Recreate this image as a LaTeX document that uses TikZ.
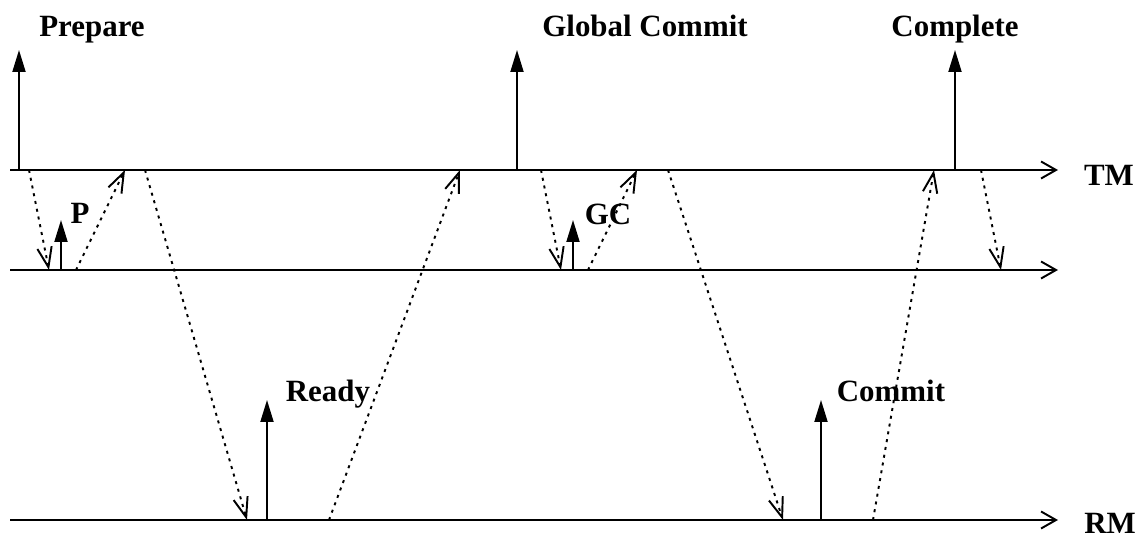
\documentclass[tikz,border=0pt]{standalone}
\usepackage{fontspec}
\setmainfont{Liberation Serif}
\usetikzlibrary{arrows.meta}
\usetikzlibrary{positioning}

\begin{document}
\begin{tikzpicture}[x=0.02cm, y=-0.02cm, line width=1.1pt,
    axis/.style={-{Straight Barb[length=0.3cm,width=0.34cm]}},
    event/.style={-{Triangle[length=0.44cm,width=0.26cm]}},
    msg/.style={-{Straight Barb[length=0.4cm,width=0.29cm]}, dash pattern=on 1.7pt off 2.8pt},
    lbl/.style={font=\fontsize{17.6}{20}\selectfont\bfseries, inner sep=0pt, anchor=base}]
        \useasboundingbox (0,0) rectangle (1143,540);

        % Draw the three time lines
        \foreach \n/\y in {tm/170, pm/270, rm/520}
        {
          \coordinate (\n0) at (10,\y);
          \coordinate (\n1) at (1058,\y);
          \draw[axis] (\n0) -- (\n1);
        }
        \node[lbl] (tmlbl) at (1109,186) {TM};
        \node[lbl] (rmlbl) at (1110,533) {RM};

        % Draw the events, each from its time line upwards
        \foreach \i/\x/\ya/\yb in {1/19/170/50, 2/517/170/50, 3/955/170/50, 4/61/270/220, 5/573/270/220, 6/267/520/400, 7/821/520/400}
        {
          \coordinate (e\i) at (\x,\ya);
          \coordinate (h\i) at (\x,\yb);
          \draw[event] (e\i) -- (h\i);
        }

        \node[lbl] (prepare) at (92,37) {Prepare};
        \node[lbl] (gcommit) at (645,37) {Global Commit};
        \node[lbl] (complete) at (955,37) {Complete};
        \node[lbl] (p) at (80,224) {P};
        \node[lbl] (gc) at (608,225) {GC};
        \node[lbl] (ready) at (328,402) {Ready};
        \node[lbl] (commit) at (891,402) {Commit};

        % Draw the messages between the lines
        \foreach \i/\xa/\ya/\xb/\yb in {1/29/170/49/270, 2/76/270/125/170, 3/145/170/247/520, 4/329/520/460/170, 5/541/170/561/270, 6/588/270/637/170, 7/668/170/783/520, 8/873/520/934/170, 9/981/170/1001/270}
        {
          \coordinate (s\i) at (\xa,\ya);
          \coordinate (t\i) at (\xb,\yb);
          \draw[msg] (s\i) -- (t\i);
        }
      \end{tikzpicture}
\end{document}
